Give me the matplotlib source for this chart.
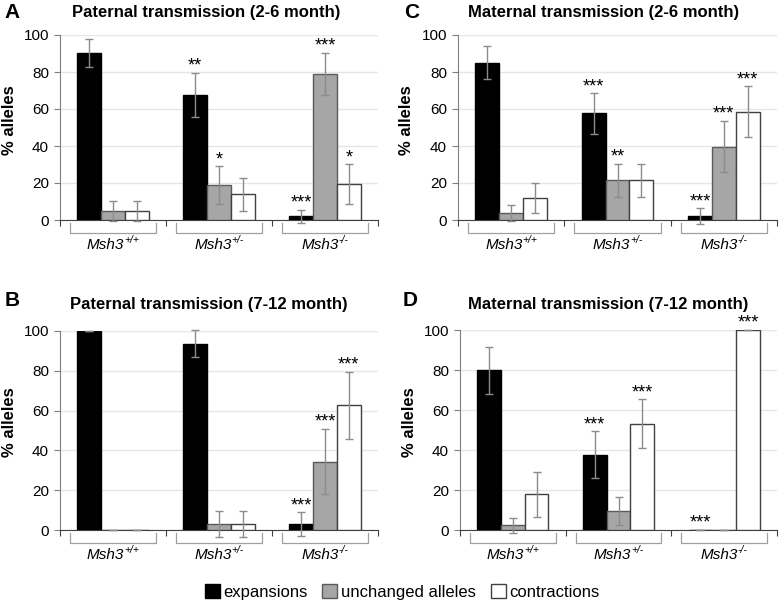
import matplotlib
matplotlib.use("Agg")
from matplotlib import pyplot as plt
from matplotlib.patches import Patch
from matplotlib.transforms import offset_copy
import numpy as np

plt.rcParams["font.family"] = ["Liberation Sans", "DejaVu Sans"]

genotype = "Msh3"
superscripts = ["+/+", "+/-", "-/-"]
series = ["expansions", "unchanged alleles", "contractions"]

# panel A: paternal 2-6 month
a_exp = [90.3, 67.6, 2.0]
a_unc = [5.0, 18.8, 79.0]
a_con = [5.0, 14.0, 19.4]
a_exp_err = [7.5, 12.0, 3.4]
a_unc_err = [5.4, 10.2, 11.3]
a_con_err = [5.4, 8.9, 10.8]
a_stars = [["", "", ""], ["**", "*", ""], ["***", "***", "*"]]

# panel B: paternal 7-12 month
b_exp = [100.0, 93.7, 3.0]
b_unc = [0.0, 3.2, 34.4]
b_con = [0.0, 3.2, 62.6]
b_exp_err = [0.0, 7.0, 6.0]
b_unc_err = [0.0, 6.5, 16.5]
b_con_err = [0.0, 6.5, 16.8]
b_stars = [["", "", ""], ["", "", ""], ["***", "***", "***"]]

# panel C: maternal 2-6 month
c_exp = [85.1, 57.6, 2.2]
c_unc = [3.6, 21.4, 39.7]
c_con = [12.0, 21.4, 58.5]
c_exp_err = [9.1, 10.9, 4.1]
c_unc_err = [4.3, 8.9, 14.0]
c_con_err = [8.1, 8.9, 13.7]
c_stars = [["", "", ""], ["***", "**", ""], ["***", "***", "***"]]

# panel D: maternal 7-12 month
d_exp = [79.9, 37.6, 0.0]
d_unc = [2.3, 9.5, 0.0]
d_con = [17.8, 53.1, 100.0]
d_exp_err = [11.8, 11.8, 0.0]
d_unc_err = [3.9, 7.1, 0.0]
d_con_err = [11.1, 12.2, 0.0]
d_stars = [["", "", ""], ["***", "", "***"], ["***", "", "***"]]

titles = ["Paternal transmission (2-6 month)", "Paternal transmission (7-12 month)",
          "Maternal transmission (2-6 month)", "Maternal transmission (7-12 month)"]
letters = ["A", "B", "C", "D"]

fills = ["#000000", "#a6a6a6", "#ffffff"]
edges = ["#000000", "#5a5a5a", "#404040"]
grid_c = "#e6e6e6"
axis_c = "#7f7f7f"
bracket_c = "#a0a0a0"

W, H = 780, 601
# axes boxes in pixels: left, right, y of 100, y of 0
boxes = [(60, 378, 35, 220), (60, 378, 331, 530), (458, 777, 35, 220), (460, 777, 330, 530)]
title_pos = [(206, 12), (209, 305), (604, 12), (608, 305)]
letter_pos = [(12, 12), (12, 300), (412, 12), (410, 300)]

fig = plt.figure(figsize=(W / 100, H / 100), dpi=100)
renderer = fig.canvas.get_renderer()


def group_label(ax, g, y):
    # italic gene name with a small raised genotype, centred under the group
    tr = ax.get_xaxis_transform()
    main = ax.text(g, y, genotype, style="italic", fontsize=11, ha="left",
                   va="center", transform=tr)
    sup = ax.text(g, y, superscripts[g], style="italic", fontsize=7.5, ha="left",
                  va="center", transform=tr)
    w1 = main.get_window_extent(renderer).width
    w2 = sup.get_window_extent(renderer).width
    start = -(w1 + w2) / 2
    main.set_transform(offset_copy(tr, fig=fig, x=start, y=0, units="dots"))
    sup.set_transform(offset_copy(tr, fig=fig, x=start + w1, y=5, units="dots"))


def draw_panel(box, vals, errs, stars):
    l, r, t, b = box
    ax = fig.add_axes([l / W, 1 - b / H, (r - l) / W, (b - t) / H])
    x = np.arange(len(superscripts))
    w = 0.225
    for i in range(3):
        ax.bar(x + (i - 1) * w, vals[i], w, color=fills[i], edgecolor=edges[i],
               linewidth=1, zorder=3)
        ax.errorbar(x + (i - 1) * w, vals[i], yerr=errs[i], fmt="none",
                    ecolor="#8c8c8c", elinewidth=1, capsize=3, capthick=1,
                    zorder=4, clip_on=False)
        for g in range(3):
            s = stars[g][i]
            if s:
                ax.annotate(s, (g + (i - 1) * w, vals[i][g] + errs[i][g]),
                            xytext=(0, 1.5), textcoords="offset points",
                            ha="center", va="baseline", fontsize=13, zorder=5,
                            annotation_clip=False)
    ax.set_xlim(-0.5, 2.5)
    ax.set_ylim(0, 100)
    ax.set_yticks([0, 20, 40, 60, 80, 100])
    ax.yaxis.grid(True, color=grid_c, linewidth=1, zorder=0)
    ax.set_axisbelow(True)
    for sp in ["top", "right"]:
        ax.spines[sp].set_visible(False)
    ax.spines["left"].set_color(axis_c)
    ax.spines["bottom"].set_color("#404040")
    ax.tick_params(axis="y", length=4, color=axis_c, labelsize=11, pad=4)
    ax.set_xticks([-0.5, 0.5, 1.5, 2.5])
    ax.set_xticklabels([])
    ax.tick_params(axis="x", length=4, color="#404040")
    ax.set_ylabel("% alleles", fontsize=12, fontweight="bold", va="center")
    ax.yaxis.set_label_coords(-0.16, 0.54)
    # group brackets and labels below the axis
    tr = ax.get_xaxis_transform()
    px = 1.0 / (b - t)
    for g in range(3):
        x0, x1 = g - 0.405, g + 0.405
        ax.plot([x0, x0, x1, x1], [-3 * px, -13 * px, -13 * px, -3 * px],
                color=bracket_c, linewidth=0.9, transform=tr, clip_on=False)
        group_label(ax, g, -25 * px)
    return ax


panels = [
    ([a_exp, a_unc, a_con], [a_exp_err, a_unc_err, a_con_err], a_stars),
    ([b_exp, b_unc, b_con], [b_exp_err, b_unc_err, b_con_err], b_stars),
    ([c_exp, c_unc, c_con], [c_exp_err, c_unc_err, c_con_err], c_stars),
    ([d_exp, d_unc, d_con], [d_exp_err, d_unc_err, d_con_err], d_stars),
]

for k, (vals, errs, stars) in enumerate(panels):
    draw_panel(boxes[k], vals, errs, stars)
    fig.text(title_pos[k][0] / W, 1 - title_pos[k][1] / H, titles[k],
             ha="center", va="center", fontsize=12, fontweight="bold")
    fig.text(letter_pos[k][0] / W, 1 - letter_pos[k][1] / H, letters[k],
             ha="center", va="center", fontsize=15, fontweight="bold")

handles = [Patch(facecolor=fills[i], edgecolor=edges[i], linewidth=1) for i in range(3)]
fig.legend(handles, series, loc="center", bbox_to_anchor=(402 / W, 1 - 592 / H),
           ncol=3, frameon=False, fontsize=12, handlelength=0.9, handleheight=0.9,
           handletextpad=0.2, columnspacing=0.9)

fig.savefig("out.png", dpi=100)
